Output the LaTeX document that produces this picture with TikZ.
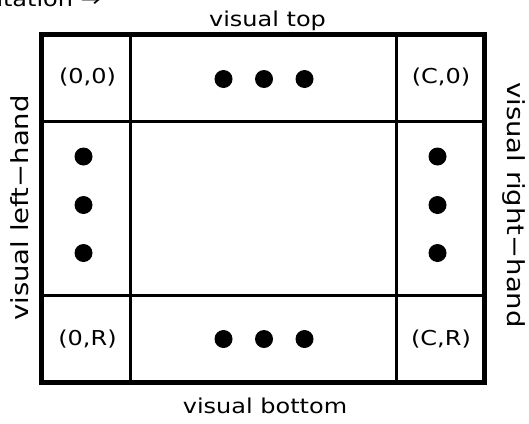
\documentclass[tikz,border=0pt]{standalone}
\usepackage{fontspec}
\setmainfont[FakeStretch=1.17]{DejaVu Sans}
\begin{document}
\begin{tikzpicture}[x=1pt,y=-1pt,
  frame/.style={line width=5pt},
  gridline/.style={line width=3pt},
  dot/.style={circle,fill=black,inner sep=0pt,minimum size=18pt},
  lbl/.style={font=\fontsize{20.5pt}{24pt}\selectfont,inner sep=0pt,anchor=base},
  side/.style={font=\fontsize{23.5pt}{26pt}\selectfont,inner sep=0pt,anchor=base}]
\useasboundingbox (0,0) rectangle (529,423);
\begin{scope}
\clip (0,0) rectangle (529,423);
\node[lbl,anchor=base east] (orient) at (101,6.5) {orientation →};
\end{scope}
% grid
\coordinate (tl) at (41.5,34.5);
\coordinate (br) at (484,382);
\draw[gridline] (130,34.5) -- (130,382);
\draw[gridline] (396,34.5) -- (396,382);
\draw[gridline] (41.5,121) -- (484,121);
\draw[gridline] (41.5,295.5) -- (484,295.5);
\draw[frame] (tl) rectangle (br);
% corner labels
\node[lbl] (c00) at (87.5,83) {(0,0)};
\node[lbl] (cC0) at (441,83) {(C,0)};
\node[lbl] (c0R) at (87.5,345) {(0,R)};
\node[lbl] (cCR) at (441,345) {(C,R)};
% dots
\node[dot] (t1) at (223.5,79) {};
\node[dot] (t2) at (264,79) {};
\node[dot] (t3) at (304.5,79) {};
\node[dot] (b1) at (223.5,339) {};
\node[dot] (b2) at (264,339) {};
\node[dot] (b3) at (304.5,339) {};
\node[dot] (l1) at (83.5,156.5) {};
\node[dot] (l2) at (83.5,205) {};
\node[dot] (l3) at (83.5,253) {};
\node[dot] (r1) at (437.5,156.5) {};
\node[dot] (r2) at (437.5,205) {};
\node[dot] (r3) at (437.5,253) {};
% side labels
\node[lbl] (top) at (267.5,26) {visual top};
\node[lbl] (bottom) at (265,413) {visual bottom};
\node[side,rotate=90] (left) at (28.5,208) {visual left−hand};
\node[side,rotate=-90] (right) at (507.5,205) {visual right−hand};
\end{tikzpicture}
\end{document}
